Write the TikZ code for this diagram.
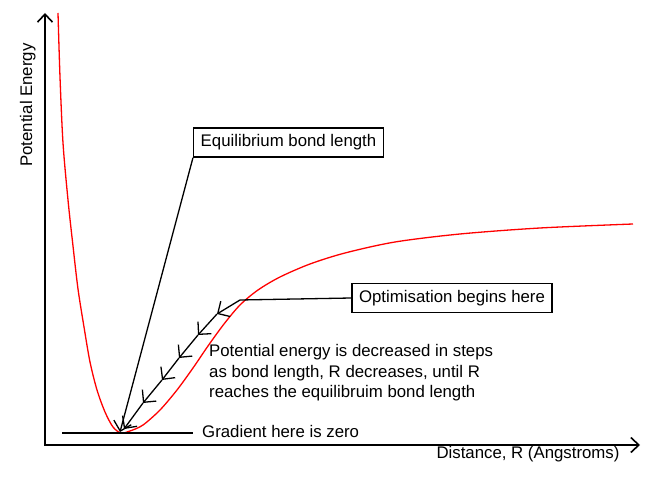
\documentclass[tikz,border=0pt]{standalone}
\usepackage{fontspec}
\setmainfont{Liberation Sans}
\usetikzlibrary{arrows.meta}

\begin{document}
\begin{tikzpicture}[
  x=1pt, y=1pt,
  font=\fontsize{16.8}{20.5}\selectfont,
  axis/.style={{Straight Barb[length=8pt,width=15pt]}-{Straight Barb[length=8pt,width=15pt]},
               line width=1.6pt},
  curve/.style={red, line width=1.3pt},
  notebox/.style={draw, line width=1.5pt, inner xsep=7pt, minimum height=29pt},
  link/.style={line width=1.3pt},
  stepline/.style={link, -{Straight Barb[length=9pt,width=18pt]}},
]
  \useasboundingbox (0,0) rectangle (657,482);

  % axes
  \coordinate (O) at (45,37);
  \coordinate (ytip) at (45,469);
  \coordinate (xtip) at (640,37);
  \draw[axis] (ytip) -- (O) -- (xtip);
  \node[rotate=90, anchor=base] (ylab) at (32,377) {Potential Energy};
  \node[anchor=base] (xlab) at (528,23) {Distance, R (Angstroms)};

  % potential energy curve
  \draw[curve] plot[smooth] coordinates {
    (58,469) (60,405) (63,339) (68,282) (73,236) (78,193) (84,155) (90,120)
    (97,92) (105,70) (113,55) (121,49) (130,51) (143,57) (160,72) (177,92)
    (193,114) (208,136) (224,158) (240,177) (258,192) (280,205) (310,218)
    (345,229) (395,240) (460,248) (540,254) (633,258)};

  % optimisation steps
  \foreach \px/\py [count=\i from 0] in
    {240/182, 217/168, 198/147, 179/124, 162/102, 143/79, 124/53}
    \coordinate (s\i) at (\px,\py);
  \foreach \a/\b in {0/1,1/2,2/3,3/4,4/5,5/6}
    \draw[stepline] (s\a) -- (s\b);

  \node[notebox] (opt) at (452,184) {Optimisation begins here};
  \draw[link] (s0) -- (opt.west);

  \node[notebox] (eq) at (288.5,339.5) {Equilibrium bond length};
  \coordinate (emin) at (120,50);
  \draw[stepline] (eq.south west) -- (emin);

  \node[anchor=north west, align=left, inner sep=0pt] (desc) at (209,137.5)
    {Potential energy is decreased in steps\\
     as bond length, R decreases, until R\\
     reaches the equilibruim bond length};

  % zero gradient
  \coordinate (g0) at (62,49);
  \node[anchor=west, inner xsep=9pt] (grad) at (193,51) {Gradient here is zero};
  \draw[link] (g0) -- (grad.west |- g0);
\end{tikzpicture}
\end{document}
